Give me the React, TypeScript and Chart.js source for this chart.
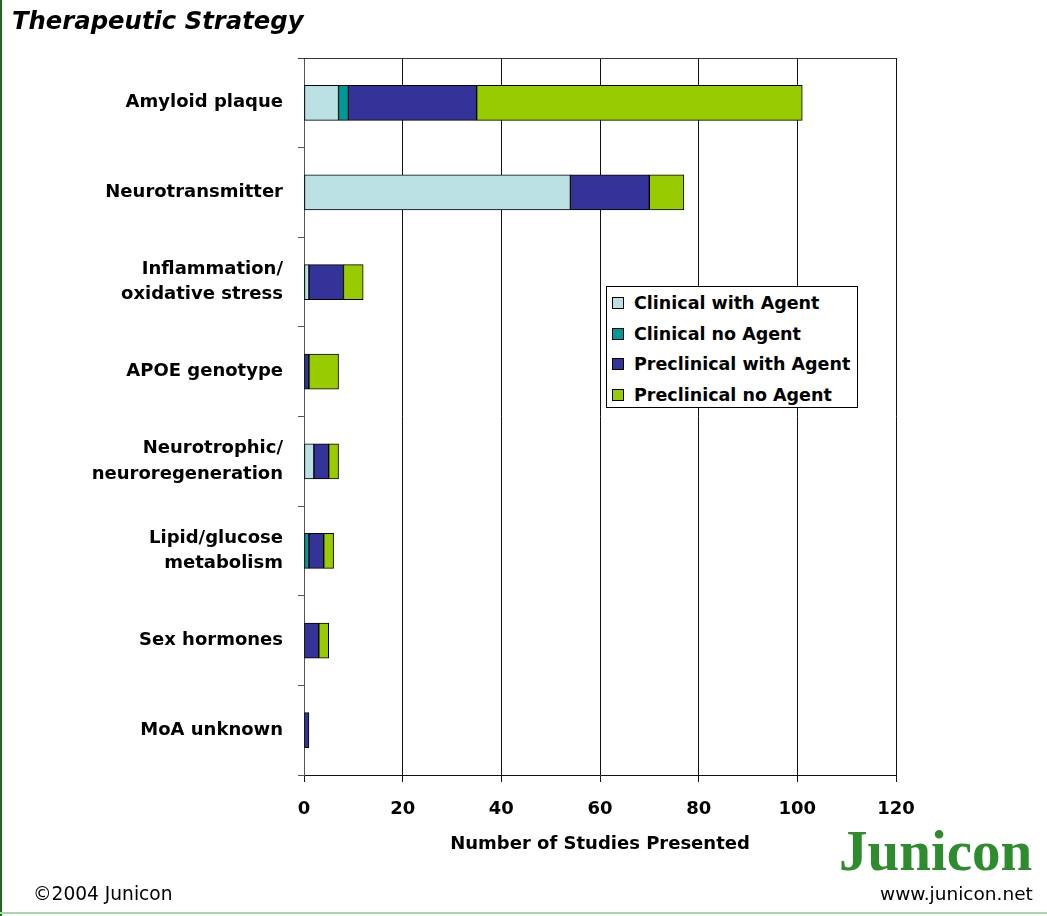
import React, { useEffect, useRef } from "react";
import { Chart, registerables } from "chart.js";

Chart.register(...registerables);

// Strategy categories (multi-line labels are split into arrays)
const categories: (string | string[])[] = [
  "Amyloid plaque",
  "Neurotransmitter",
  ["Inflammation/", "oxidative stress"],
  "APOE genotype",
  ["Neurotrophic/", "neuroregeneration"],
  ["Lipid/glucose", "metabolism"],
  "Sex hormones",
  "MoA unknown",
];

// Number of studies per category, by study type
const clinicalWithAgent = [7, 54, 1, 0, 2, 0, 0, 0];
const clinicalNoAgent = [2, 0, 0, 0, 0, 1, 0, 0];
const preclinicalWithAgent = [26, 16, 7, 1, 3, 3, 3, 1];
const preclinicalNoAgent = [66, 7, 4, 6, 2, 2, 2, 0];

const seriesNames = [
  "Clinical with Agent",
  "Clinical no Agent",
  "Preclinical with Agent",
  "Preclinical no Agent",
];
const seriesColors = ["#BBE0E3", "#009999", "#333399", "#99CC00"];
const seriesValues = [clinicalWithAgent, clinicalNoAgent, preclinicalWithAgent, preclinicalNoAgent];

const xTicks = [0, 20, 40, 60, 80, 100, 120];

const FONT = "'DejaVu Sans', sans-serif";

// Outline along the top of the plotting area
const topBorder = {
  id: "topBorder",
  afterDraw(chart: any) {
    const { ctx, chartArea } = chart;
    ctx.save();
    ctx.strokeStyle = "#333";
    ctx.lineWidth = 1;
    ctx.beginPath();
    ctx.moveTo(chartArea.left - 6, Math.round(chartArea.top) + 0.5);
    ctx.lineTo(chartArea.right, Math.round(chartArea.top) + 0.5);
    ctx.stroke();
    ctx.restore();
  },
};

export default function App() {
  const canvasRef = useRef<HTMLCanvasElement | null>(null);

  useEffect(() => {
    if (!canvasRef.current) return;
    const chart = new Chart(canvasRef.current, {
      type: "bar",
      data: {
        labels: categories,
        datasets: seriesNames.map((name, i) => ({
          label: name,
          data: seriesValues[i],
          backgroundColor: seriesColors[i],
          borderColor: "#000",
          borderWidth: 1,
          borderSkipped: false,
          barThickness: 35,
        })),
      },
      options: {
        indexAxis: "y",
        responsive: false,
        animation: false,
        devicePixelRatio: 1,
        layout: { padding: { top: 58, right: 151, bottom: 61, left: 0 } },
        plugins: {
          legend: { display: false },
          tooltip: { enabled: false },
        },
        scales: {
          x: {
            stacked: true,
            min: 0,
            max: 120,
            afterBuildTicks: (scale: any) => {
              scale.ticks = xTicks.map((v) => ({ value: v }));
            },
            afterFit: (scale: any) => {
              scale.height = 80;
            },
            grid: {
              color: "#111",
              lineWidth: 1,
              drawTicks: true,
              tickLength: 7,
            },
            border: { color: "#111", width: 1 },
            ticks: {
              color: "#000",
              padding: 17,
              font: { family: FONT, size: 18, weight: "bold" },
            },
            title: {
              display: true,
              text: "Number of Studies Presented",
              color: "#000",
              padding: { top: 0, bottom: 0 },
              font: { family: FONT, size: 18, weight: "bold" },
            },
          },
          y: {
            stacked: true,
            afterFit: (scale: any) => {
              scale.width = 304;
            },
            grid: {
              offset: true,
              drawOnChartArea: false,
              drawTicks: true,
              tickLength: 6,
              color: "#555",
            },
            border: { color: "#555", width: 1 },
            ticks: {
              color: "#000",
              padding: 15,
              font: { family: FONT, size: 18, weight: "bold", lineHeight: 1.4 },
            },
          },
        },
      },
      plugins: [topBorder],
    });
    return () => chart.destroy();
  }, []);

  return (
    <div
      style={{
        position: "absolute",
        left: 0,
        top: 0,
        width: 1047,
        height: 916,
        background: "#fff",
        overflow: "hidden",
        fontFamily: FONT,
        color: "#000",
      }}
    >
      <canvas ref={canvasRef} width={1047} height={916} style={{ position: "absolute", left: 0, top: 0 }} />

      <div
        style={{
          position: "absolute",
          left: 12,
          top: 9,
          fontSize: 24.3,
          lineHeight: "24px",
          fontWeight: "bold",
          fontStyle: "italic",
          whiteSpace: "nowrap",
        }}
      >
        Therapeutic Strategy
      </div>

      <div
        style={{
          position: "absolute",
          left: 606,
          top: 286,
          width: 250,
          height: 120,
          border: "1px solid #000",
          background: "#fff",
        }}
      >
        {seriesNames.map((name, i) => (
          <div
            key={name}
            style={{
              position: "absolute",
              left: 5,
              top: 4 + i * 30.5,
              height: 24,
              display: "flex",
              alignItems: "center",
              whiteSpace: "nowrap",
            }}
          >
            <span
              style={{
                display: "inline-block",
                width: 10,
                height: 10,
                border: "1px solid #000",
                background: seriesColors[i],
                marginRight: 10,
              }}
            />
            <span style={{ fontSize: 17.5, fontWeight: "bold" }}>{name}</span>
          </div>
        ))}
      </div>

      <div
        style={{
          position: "absolute",
          left: 33,
          top: 885,
          fontSize: 18.6,
          lineHeight: "18px",
          whiteSpace: "nowrap",
        }}
      >
        ©2004 Junicon
      </div>

      <div
        style={{
          position: "absolute",
          left: 839,
          top: 824,
          fontFamily: "'Liberation Serif', serif",
          fontWeight: "bold",
          fontSize: 57,
          lineHeight: "54px",
          color: "#2E8B2E",
          whiteSpace: "nowrap",
        }}
      >
        Junicon
      </div>

      <div
        style={{
          position: "absolute",
          left: 880,
          top: 885,
          fontSize: 18.5,
          lineHeight: "18px",
          whiteSpace: "nowrap",
        }}
      >
        www.junicon.net
      </div>

      <div style={{ position: "absolute", left: 0, top: 0, width: 2, height: 916, background: "#1C6B1C" }} />
      <div style={{ position: "absolute", left: 0, top: 912, width: 1047, height: 2, background: "#A8D8A8" }} />
    </div>
  );
}
